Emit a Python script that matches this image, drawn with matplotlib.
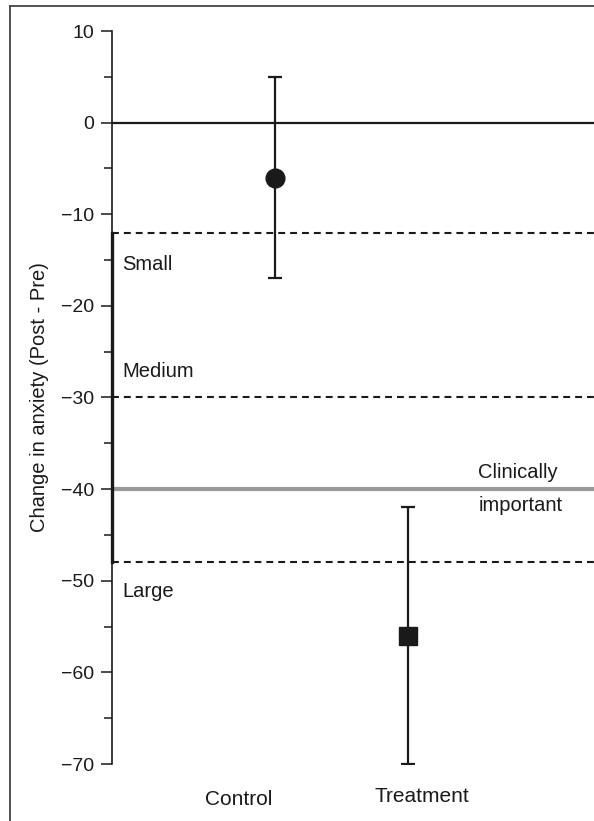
import matplotlib
matplotlib.use("Agg")
import matplotlib.pyplot as plt
from matplotlib.lines import Line2D
from matplotlib.ticker import MultipleLocator, FuncFormatter

plt.rcParams["font.family"] = ["Liberation Sans", "DejaVu Sans"]

# group summaries: mean change with interval bounds
groups = ["Control", "Treatment"]
means = [-6, -56]
upper = [5, -42]
lower = [-17, -70]
markers = ["o", "s"]

# effect size thresholds
effect_cuts = [-12, -30, -48]
effect_names = ["Small", "Medium", "Large"]
effect_label_y = [-15.5, -27.2, -51.2]
clinical_cut = -40

ink = "#1a1a1a"
fs = 14.5

fig = plt.figure(figsize=(5.94, 8.21), dpi=100)
ax = fig.add_axes([112 / 594, 57 / 821, 482 / 594, 733 / 821])

x = [1, 2]
ax.set_xlim(1 - 163 / 133, 2 + 186 / 133)
ax.set_ylim(-70, 10)

# reference lines
ax.axhline(0, color=ink, lw=1.6, zorder=2)
for cut in effect_cuts:
    ax.axhline(cut, color=ink, lw=1.5, ls=(0, (3.3, 2.4)), zorder=2)
ax.axhline(clinical_cut, color="#999999", lw=3, zorder=1)

# bracket covering the effect size bands
ax.plot([0, 0], [effect_cuts[0], effect_cuts[-1]], color=ink, lw=2.4,
        transform=ax.get_yaxis_transform(), clip_on=False, zorder=3)

for xi, m, hi, lo, mk in zip(x, means, upper, lower, markers):
    ax.errorbar(xi, m, yerr=[[m - lo], [hi - m]], fmt=mk, color=ink,
                ms=13.5, elinewidth=1.6, capsize=4.7, capthick=1.6, zorder=4)

for name, ty in zip(effect_names, effect_label_y):
    ax.text(0.022, ty, name, transform=ax.get_yaxis_transform(),
            fontsize=fs, color=ink, va="center", ha="left")

ax.text(0.76, clinical_cut + 0.8, "Clinically", transform=ax.get_yaxis_transform(),
        fontsize=fs, color=ink, va="bottom", ha="left")
ax.text(0.76, clinical_cut - 0.8, "important", transform=ax.get_yaxis_transform(),
        fontsize=fs, color=ink, va="top", ha="left")

# category labels below the axis
ax.text(0.729, -73.9, groups[0], fontsize=15, color=ink,
        ha="center", va="center", clip_on=False)
ax.text(2.105, -73.6, groups[1], fontsize=15, color=ink,
        ha="center", va="center", clip_on=False)

for side in ["top", "right", "bottom"]:
    ax.spines[side].set_visible(False)
ax.spines["left"].set_linewidth(1.2)
ax.spines["left"].set_color(ink)
ax.set_xticks([])
ax.yaxis.set_major_locator(MultipleLocator(10))
ax.yaxis.set_minor_locator(MultipleLocator(5))
ax.yaxis.set_major_formatter(FuncFormatter(lambda v, p: f"{v:.0f}".replace("-", "\u2212")))
ax.tick_params(axis="y", which="major", length=8, width=1.1, pad=5,
               labelsize=14, colors=ink)
ax.tick_params(axis="y", which="minor", length=6, width=1.1, colors=ink)

fig.text(40 / 594, 1 - 397 / 821, "Change in anxiety (Post - Pre)", rotation=90,
         fontsize=fs, color=ink, ha="center", va="center")

# outer frame
fig.add_artist(Line2D([10 / 594, 10 / 594], [0, 1 - 6 / 821], color="#444444", lw=1.3))
fig.add_artist(Line2D([10 / 594, 1], [1 - 6 / 821, 1 - 6 / 821], color="#444444", lw=1.3))

fig.savefig("out.png", dpi=100)
